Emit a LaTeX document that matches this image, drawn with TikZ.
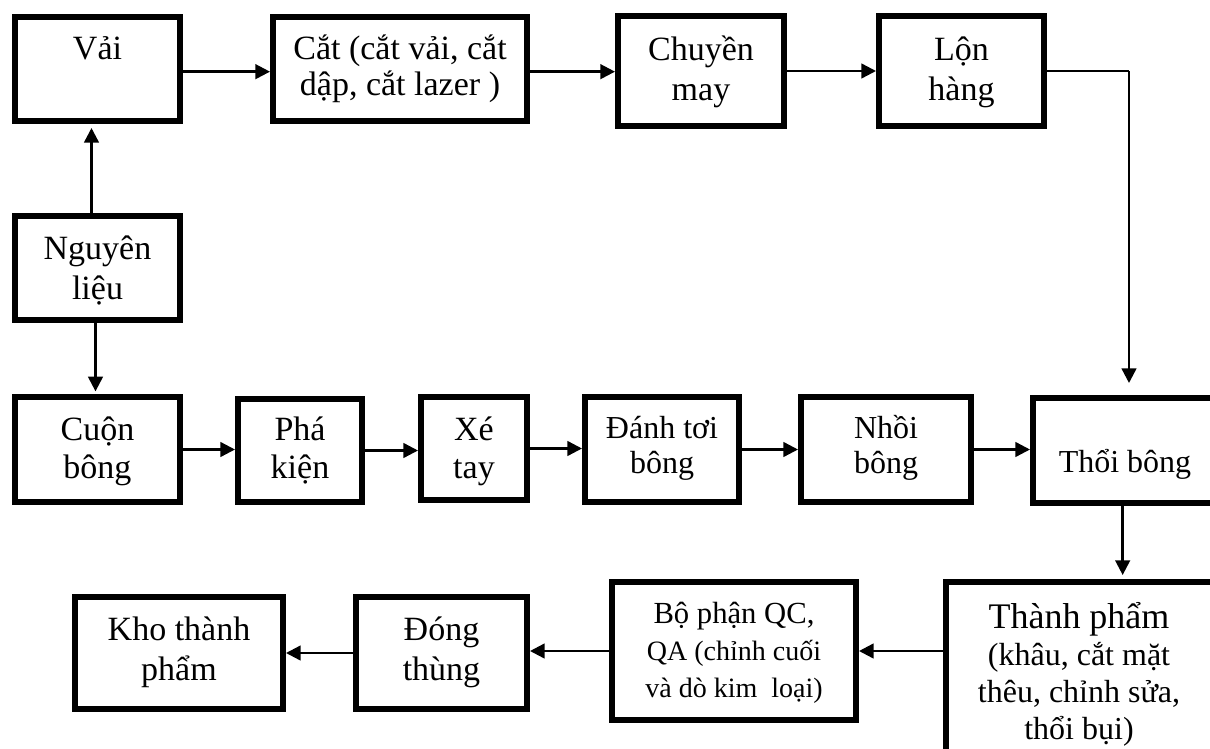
\documentclass[tikz,border=0pt]{standalone}
\usepackage{fontspec}
\setmainfont{Liberation Serif}
\usetikzlibrary{arrows.meta}
\newcommand\mkbox[5]{%
  \pgfmathsetmacro\bcx{(#2+#4)/2}%
  \pgfmathsetmacro\bcy{(#3+#5)/2}%
  \pgfmathsetmacro\bw{(#4-#2-6)*0.75}%
  \pgfmathsetmacro\bh{(#5-#3-6)*0.75}%
  \node[box, minimum width=\bw pt, minimum height=\bh pt] (#1) at (\bcx,\bcy) {};}
\newcommand\mktext[6]{%
  \pgfmathsetmacro\tfs{#4*0.75}%
  \pgfmathsetmacro\tfk{#5*0.75}%
  \node[lbl] (#1) at (#2,#3) {\fontsize{\tfs pt}{\tfk pt}\selectfont\begin{tabular}[t]{@{}c@{}}#6\end{tabular}};}
\newcommand\px[1]{\fontsize{#1}{#1}\selectfont}
\begin{document}
\begin{tikzpicture}[x=0.75pt,y=-0.75pt,
  box/.style={draw, line width=4.5pt, inner sep=0pt, fill=white},
  lbl/.style={anchor=base, inner sep=0pt},
  arr/.style={line width=1.8pt, -{Triangle[length=11pt,width=11pt]}},
  ln/.style={line width=1.5pt}]
\useasboundingbox (0,0) rectangle (1210,749);
\clip (0,0) rectangle (1210,749);
% boxes
\mkbox{vai}{12}{14}{183}{124}
\mkbox{cat}{270}{14}{530}{124}
\mkbox{chuyen}{615}{13}{787}{129}
\mkbox{lon}{876}{13}{1047}{129}
\mkbox{nguyen}{12}{213}{183}{323}
\mkbox{cuon}{12}{394}{183}{505}
\mkbox{pha}{235}{396}{365}{505}
\mkbox{xe}{418}{394}{530}{503}
\mkbox{danh}{582}{394}{742}{505}
\mkbox{nhoi}{798}{394}{974}{505}
\mkbox{thoi}{1030}{395}{1222}{506}
\mkbox{kho}{72}{594}{286}{712}
\mkbox{dong}{353}{594}{530}{712}
\mkbox{qc}{609}{579}{859}{723}
\mkbox{thanh}{943}{579}{1222}{780}
% texts
\mktext{vai-t}{97.5}{60}{34}{40}{Vải}
\mktext{cat-t}{400}{60}{34}{36}{Cắt (cắt vải, cắt\\dập, cắt lazer )}
\mktext{chuyen-t}{701}{61}{34}{39}{Chuyền\\may}
\mktext{lon-t}{961.5}{61}{34}{39}{Lộn\\hàng}
\mktext{nguyen-t}{97.5}{259}{34}{40}{Nguyên\\liệu}
\mktext{cuon-t}{97.5}{440}{34}{38}{Cuộn\\bông}
\mktext{pha-t}{300}{440}{34}{38}{Phá\\kiện}
\mktext{xe-t}{474}{440}{34}{38}{Xé\\tay}
\mktext{danh-t}{662}{438}{32}{35}{Đánh tơi\\bông}
\mktext{nhoi-t}{886}{438}{32}{35}{Nhồi\\bông}
\mktext{thoi-t}{1125}{472}{32}{40}{Thổi bông}
\mktext{kho-t}{179}{640}{34}{40}{Kho thành\\phẩm}
\mktext{dong-t}{441.5}{640}{34}{40}{Đóng\\thùng}
\mktext{qc-t}{734}{623}{28}{37}{{\px{23pt}Bộ phận QC,}\\QA (chỉnh cuối\\và dò kim\ \ loại)}
\mktext{thanh-t}{1079}{628}{32}{37.3}{{\px{27pt}Thành phẩm}\\(khâu, cắt mặt\\thêu, chỉnh sửa,\\thổi bụi)}
% connectors
\draw[arr] ([yshift=-2pt]vai.east) -- ([yshift=-2pt]vai.east -| cat.west);
\draw[arr] ([yshift=-2pt]cat.east) -- ([yshift=-2pt]cat.east -| chuyen.west);
\draw[arr] (chuyen.east) -- (chuyen.east -| lon.west);
\draw[ln] (lon.east) -- ++(82,0) coordinate (c1);
\draw[arr] (c1) -- ([yshift=9pt]c1 |- thoi.north);
\draw[arr] ([xshift=-4.5pt]nguyen.north) -- ([xshift=-4.5pt,yshift=-3pt]nguyen.north |- vai.south);
\draw[arr] ([xshift=-1.5pt]nguyen.south) -- ([xshift=-1.5pt,yshift=2pt]nguyen.south |- cuon.north);
\draw[arr] (cuon.east) -- (cuon.east -| pha.west);
\draw[arr] (pha.east) -- (pha.east -| xe.west);
\draw[arr] (xe.east) -- (xe.east -| danh.west);
\draw[arr] (danh.east) -- (danh.east -| nhoi.west);
\draw[arr] (nhoi.east) -- (nhoi.east -| thoi.west);
\draw[arr] ([xshift=-2.5pt]thoi.south) -- ([xshift=-2.5pt,yshift=3pt]thoi.south |- thanh.north);
\draw[arr] (qc.east -| thanh.west) -- (qc.east);
\draw[arr] (qc.west) -- (qc.west -| dong.east);
\draw[arr] (dong.west) -- (dong.west -| kho.east);
\end{tikzpicture}
\end{document}
